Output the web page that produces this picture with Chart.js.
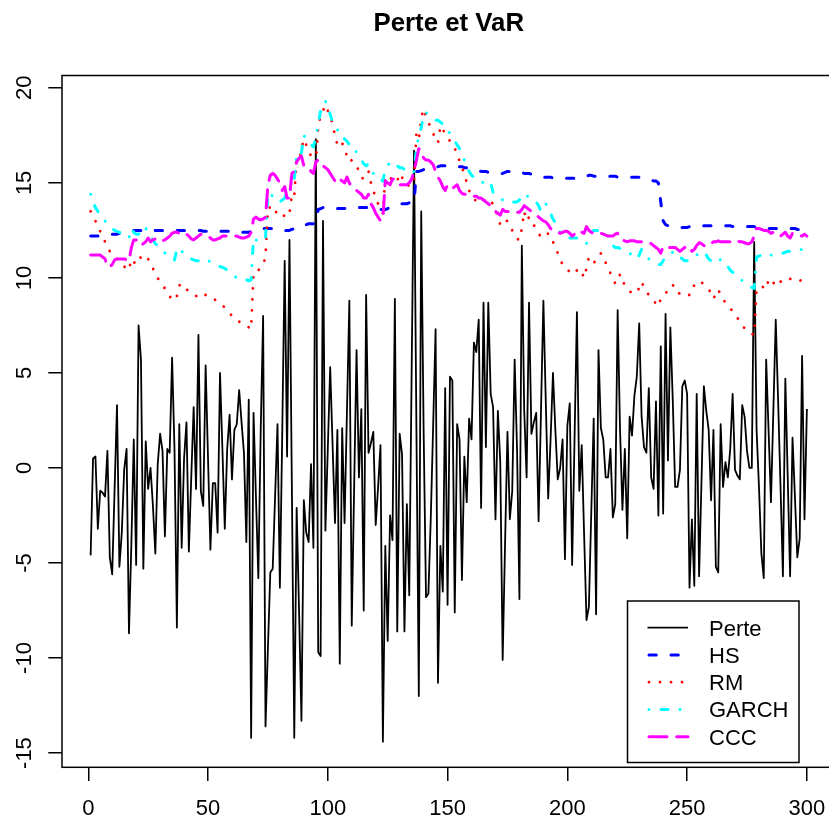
<!DOCTYPE html>
<html>
<head>
<meta charset="utf-8">
<title>Perte et VaR</title>
<script src="https://cdn.jsdelivr.net/npm/chart.js@4.4.0/dist/chart.umd.min.js"></script>
<style>
html, body { margin: 0; padding: 0; overflow: hidden; background: #fff; }
#wrap { width: 840px; height: 825px; }
</style>
</head>
<body>
<div id="wrap"><canvas id="chart" width="840" height="825"></canvas></div>
<script>
// series, day 1..300
var perte = [
  -4.6, 0.5, 0.6, -3.2, -1.2, -1.3, -1.5, 0.9, -4.7, -5.6,
  -1.1, 3.3, -5.2, -3.4, -0.1, 1.0, -8.7, -4.0, 1.5, -5.1,
  7.5, 5.7, -5.3, 1.4, -1.1, 0.0, -2.0, -4.5, 0.2, 1.8,
  0.9, -3.6, 1.0, 0.8, 5.8, 1.0, -8.4, 2.3, -4.2, 0.5,
  2.4, -4.4, -0.5, 3.2, -1.1, 7.0, -1.2, -2.0, 5.4, 0.5,
  -4.3, -0.8, -0.8, -3.4, 5.0, 1.0, -3.2, 1.0, 2.8, -0.6,
  2.0, 2.3, 4.1, 2.4, 0.8, -3.9, 3.6, -14.2, 2.9, -1.5,
  -5.8, 2.0, 8.0, -13.6, -9.5, -5.5, -5.3, -1.5, 2.3, -6.3,
  2.0, 10.9, 0.6, 12.0, -1.0, -14.2, -2.1, -7.5, -13.3, -1.7,
  -3.4, -3.9, 0.2, -4.2, 17.3, -9.7, -9.9, 13.0, -3.3, 1.0,
  5.3, 1.2, -2.9, 2.0, -10.3, 2.1, -2.9, 3.0, 8.8, -8.3,
  -1.0, 6.2, -0.5, 3.1, -7.5, 9.1, 0.8, 1.3, 1.9, -3.0,
  -1.0, 1.2, -14.4, -4.1, -9.1, -2.5, -3.8, 8.9, -8.6, 1.8,
  0.7, -8.6, -1.9, -6.7, 5.0, 16.7, 2.0, -12.0, 13.5, 2.0,
  -6.8, -6.6, -2.6, 2.3, 7.3, -11.3, -4.1, -6.5, 4.2, -7.2,
  4.8, 4.6, -7.6, 2.3, 1.5, -5.9, 0.6, -1.8, 2.6, 1.5,
  6.6, 6.1, 7.8, -2.1, 8.7, 1.1, 8.7, 3.9, 3.2, -2.7,
  3.0, 0.3, -10.1, -4.0, 1.9, -2.7, -1.2, 5.7, 1.0, -6.9,
  11.7, 3.0, -0.5, 8.7, 1.8, 2.4, 2.9, -2.8, 3.0, 8.8,
  3.5, -1.6, 1.5, 5.0, 2.0, -0.6, 0.0, 1.5, -4.8, 2.2,
  3.4, -5.1, 1.5, 8.2, -1.2, 1.2, -3.5, -8.0, -7.3, -2.3,
  2.6, -7.7, 6.2, 2.1, 1.5, -0.5, -0.5, 1.0, -2.6, -1.9,
  8.3, 2.0, -2.2, 1.0, -3.7, 2.7, 1.7, 3.8, 4.8, 7.6,
  2.7, 1.1, 0.8, 4.2, -0.5, -1.1, 3.5, -2.5, 6.4, -2.4,
  8.1, 0.4, 7.4, 3.6, -1.0, -1.0, -0.1, 4.3, 4.6, 3.9,
  -6.3, -2.7, -6.2, 3.9, -5.7, -0.7, 4.3, 3.0, 2.0, -1.7,
  2.0, -5.2, -5.5, 2.3, -1.0, 0.3, -0.5, 1.0, 3.9, -0.1,
  -0.4, -0.6, 3.3, 2.7, 0.9, 0.0, 0.0, 11.9, 2.0, -1.0,
  -4.5, -5.8, 5.7, 2.0, -1.8, 3.0, 7.8, 3.5, -1.0, -5.7,
  4.7, -0.5, -5.7, 1.6, -1.5, -4.7, -3.7, 5.9, -2.7, 3.1
];

var hs = [
  12.2, 12.2, 12.2, 12.2, 12.25, 12.25, 12.3, 12.3, 12.3, 12.3,
  12.3, 12.3, 12.35, 12.35, 12.4, 12.45, 12.5, 12.5, 12.5, 12.5,
  12.5, 12.5, 12.5, 12.5, 12.45, 12.45, 12.45, 12.5, 12.5, 12.5,
  12.5, 12.5, 12.5, 12.5, 12.5, 12.5, 12.5, 12.5, 12.5, 12.5,
  12.5, 12.5, 12.5, 12.5, 12.5, 12.5, 12.5, 12.45, 12.45, 12.45,
  12.45, 12.45, 12.45, 12.45, 12.45, 12.45, 12.45, 12.45, 12.45, 12.45,
  12.4, 12.4, 12.4, 12.4, 12.4, 12.4, 12.4, 12.45, 12.5, 12.5,
  12.55, 12.55, 12.6, 12.6, 12.6, 12.6, 12.6, 12.55, 12.5, 12.5,
  12.5, 12.5, 12.5, 12.5, 12.55, 12.6, 12.7, 12.75, 12.8, 12.8,
  12.8, 12.85, 12.85, 12.85, 12.85, 13.6, 13.65, 13.7, 13.7, 13.7,
  13.7, 13.65, 13.65, 13.65, 13.65, 13.65, 13.65, 13.7, 13.7, 13.7,
  13.7, 13.7, 13.7, 13.7, 13.7, 13.7, 13.7, 13.7, 13.7, 13.7,
  13.65, 13.6, 13.6, 13.6, 13.65, 13.7, 13.75, 13.8, 13.85, 13.9,
  13.9, 13.9, 13.9, 13.95, 13.95, 13.95, 15.6, 15.6, 15.65, 15.7,
  15.7, 15.7, 15.75, 15.8, 15.8, 15.85, 15.9, 15.9, 15.9, 15.9,
  15.9, 15.9, 15.9, 15.9, 15.85, 15.85, 15.8, 15.8, 15.75, 15.75,
  15.7, 15.7, 15.65, 15.6, 15.6, 15.6, 15.55, 15.55, 15.5, 15.5,
  15.5, 15.5, 15.5, 15.55, 15.6, 15.6, 15.6, 15.6, 15.6, 15.6,
  15.55, 15.5, 15.5, 15.5, 15.45, 15.4, 15.4, 15.35, 15.35, 15.3,
  15.3, 15.3, 15.3, 15.25, 15.25, 15.25, 15.25, 15.25, 15.25, 15.25,
  15.25, 15.25, 15.25, 15.25, 15.3, 15.3, 15.35, 15.35, 15.4, 15.4,
  15.35, 15.35, 15.35, 15.35, 15.35, 15.35, 15.35, 15.35, 15.35, 15.35,
  15.3, 15.3, 15.3, 15.3, 15.3, 15.3, 15.3, 15.3, 15.3, 15.3,
  15.25, 15.2, 15.2, 15.2, 15.15, 15.1, 15.1, 15.0, 14.0, 13.0,
  12.8, 12.75, 12.7, 12.7, 12.7, 12.7, 12.65, 12.65, 12.65, 12.65,
  12.7, 12.7, 12.7, 12.7, 12.75, 12.75, 12.75, 12.75, 12.75, 12.75,
  12.75, 12.75, 12.75, 12.75, 12.75, 12.75, 12.75, 12.75, 12.7, 12.7,
  12.7, 12.7, 12.7, 12.7, 12.7, 12.7, 12.7, 12.7, 12.65, 12.65,
  12.65, 12.6, 12.6, 12.6, 12.6, 12.6, 12.6, 12.6, 12.6, 12.6,
  12.6, 12.6, 12.6, 12.6, 12.6, 12.55, 12.55, 12.5, 12.5, 12.5
];

var rm = [
  13.5, 13.2, 13.0, 12.7, 12.45, 12.2, 11.9, 11.6, 11.4, 11.2,
  11.1, 11.0, 10.9, 10.8, 10.6, 10.5, 10.4, 11.0, 10.85, 10.7,
  10.9, 11.1, 11.2, 11.2, 11.0, 10.7, 10.5, 10.2, 10.0, 9.75,
  9.6, 9.45, 9.3, 9.05, 8.8, 8.9, 9.05, 9.6, 9.7, 9.55,
  9.4, 9.3, 9.2, 9.1, 9.05, 9.0, 9.15, 9.1, 9.1, 9.1,
  9.0, 8.9, 8.85, 8.75, 8.65, 8.55, 8.45, 8.3, 8.15, 8.0,
  7.85, 7.75, 7.7, 7.6, 7.5, 7.45, 7.4, 7.3, 10.3, 10.35,
  10.4, 10.55, 10.7, 11.1, 13.7, 13.7, 13.8, 13.6, 13.3, 13.2,
  13.2, 13.3, 13.5, 13.4, 14.4, 14.3, 16.2, 16.1, 16.8, 17.3,
  17.0, 16.7, 16.4, 16.2, 16.0, 18.0, 18.5, 18.8, 19.1, 18.8,
  18.5, 18.1, 17.5, 17.0, 16.9, 17.1, 16.8, 16.4, 16.1, 16.2,
  16.0, 15.8, 15.7, 15.3, 15.2, 15.5, 15.6, 15.0, 14.6, 14.2,
  13.9, 13.6, 13.4, 15.3, 15.2, 15.3, 15.1, 15.0, 15.1, 15.5,
  15.3, 15.0, 15.0, 14.8, 14.9, 15.2, 17.6, 17.3, 18.4, 18.9,
  18.5, 18.2, 17.9, 17.6, 17.3, 17.1, 18.0, 17.8, 17.6, 17.4,
  17.2, 16.9, 16.8, 16.6, 16.1, 15.8, 15.5, 15.0, 14.6, 14.3,
  14.2, 14.0, 14.0, 14.0, 14.0, 14.2, 14.05, 14.0, 13.9, 13.6,
  13.2, 12.8, 13.05, 13.0, 13.0, 12.8, 12.5, 12.3, 12.05, 12.0,
  12.6, 13.5, 13.0, 13.2, 12.9, 12.8, 12.5, 12.3, 12.2, 12.1,
  12.2, 12.35, 12.1, 11.9, 11.6, 11.3, 11.0, 10.7, 10.5, 10.4,
  10.35, 10.3, 10.2, 10.4, 10.5, 10.3, 10.0, 10.5, 11.1, 11.0,
  10.8, 10.9, 11.0, 11.3, 11.1, 10.8, 10.5, 10.25, 10.0, 9.7,
  9.8, 10.2, 9.9, 9.6, 9.5, 9.3, 9.2, 9.2, 9.2, 9.5,
  9.8, 9.5, 9.3, 9.1, 8.9, 8.8, 8.65, 8.5, 8.9, 9.0,
  9.1, 9.5, 9.6, 9.6, 9.6, 9.4, 9.1, 9.1, 9.1, 9.1,
  9.1, 9.5, 9.6, 9.8, 9.8, 9.8, 9.6, 9.5, 9.4, 9.2,
  8.9, 9.2, 9.4, 9.1, 8.9, 8.7, 8.5, 8.4, 8.25, 8.1,
  7.9, 7.7, 7.5, 7.35, 7.25, 7.1, 7.05, 7.0, 9.4, 9.4,
  9.4, 9.6, 9.9, 9.7, 9.5, 9.7, 9.95, 9.8, 9.8, 9.9,
  10.0, 10.0, 9.95, 9.9, 9.85, 9.8, 9.85, 9.9, 9.95, 9.9
];

var garch = [
  14.4, 14.0, 13.7, 13.5, 13.3, 13.1, 13.0, 12.8, 12.7, 12.6,
  12.5, 12.45, 12.4, 12.35, 12.3, 12.2, 12.1, 12.6, 12.4, 12.3,
  12.3, 12.5, 12.7, 12.6, 12.4, 12.2, 12.0, 11.8, 11.7, 11.55,
  11.5, 11.3, 11.2, 11.1, 11.0, 10.95, 11.5, 11.6, 11.4, 11.3,
  11.2, 11.1, 11.0, 10.95, 10.9, 10.9, 11.0, 10.95, 10.9, 10.9,
  10.85, 10.8, 10.7, 10.65, 10.6, 10.55, 10.5, 10.4, 10.3, 10.2,
  10.1, 10.0, 9.95, 9.9, 9.9, 9.9, 9.85, 9.9, 12.1, 12.0,
  11.9, 11.9, 12.0, 12.1, 14.5, 14.4, 14.3, 14.2, 14.0, 14.0,
  14.1, 14.2, 14.6, 14.5, 15.0, 15.2, 16.5, 16.4, 16.6, 17.5,
  17.3, 17.1, 17.0, 16.9, 17.4, 18.1, 18.8, 19.0, 19.3, 19.0,
  18.6, 18.2, 18.0, 17.8, 17.6, 17.6, 17.3, 17.2, 17.0, 17.0,
  16.9, 16.6, 16.4, 16.2, 16.0, 15.9, 16.0, 15.8, 15.5, 15.3,
  15.2, 15.2, 15.1, 15.7, 15.9, 16.1, 16.0, 15.9, 15.9, 15.8,
  15.8, 15.7, 15.7, 15.6, 15.5, 15.6, 16.8, 17.5, 17.9, 18.6,
  18.7, 18.6, 18.5, 18.4, 18.3, 18.3, 18.2, 18.1, 18.0, 17.8,
  17.6, 17.4, 17.2, 17.0, 16.8, 16.5, 16.2, 15.9, 15.6, 15.4,
  15.3, 15.2, 15.1, 15.1, 15.0, 14.9, 14.9, 15.0, 14.5, 14.4,
  14.3, 14.2, 14.1, 14.1, 14.0, 14.0, 14.0, 14.0, 14.0, 14.1,
  14.4, 14.4, 14.3, 14.3, 14.2, 14.1, 14.0, 13.8, 13.5, 13.7,
  13.9, 13.7, 13.4, 13.1, 12.9, 12.7, 12.4, 12.3, 12.2, 12.1,
  12.1, 12.1, 12.1, 12.1, 12.0, 11.9, 11.8, 11.8, 12.2, 12.4,
  12.5, 12.5, 12.5, 12.5, 12.4, 12.3, 12.2, 11.9, 11.7, 11.6,
  11.6, 11.55, 11.5, 11.45, 11.4, 11.3, 11.2, 11.1, 11.0, 11.2,
  11.5, 11.3, 11.1, 11.0, 10.9, 10.8, 10.75, 10.7, 10.7, 10.9,
  11.1, 11.2, 11.3, 11.35, 11.4, 11.2, 11.1, 11.0, 10.9, 10.9,
  11.0, 11.1, 11.1, 11.2, 11.3, 11.35, 11.4, 11.2, 11.0, 10.9,
  10.8, 10.9, 11.0, 10.95, 10.95, 10.8, 10.6, 10.4, 10.3, 10.2,
  10.1, 10.0, 9.85, 9.75, 9.65, 9.55, 9.5, 9.45, 11.1, 11.15,
  11.2, 11.25, 11.3, 11.25, 11.2, 11.2, 11.2, 11.25, 11.3, 11.3,
  11.35, 11.4, 11.4, 11.4, 11.45, 11.45, 11.5, 11.5, 11.5, 11.5
];

var ccc = [
  11.2, 11.2, 11.2, 11.2, 11.2, 11.1, 11.0, 10.6, 10.6, 10.7,
  10.95, 11.0, 11.0, 11.0, 11.0, 10.95, 10.9, 11.6, 12.0, 12.0,
  11.9, 11.7, 11.8, 11.9, 12.1, 11.9, 12.0, 12.05, 11.95, 11.9,
  11.95, 12.0, 12.1, 12.2, 12.35, 12.4, 12.4, 12.35, 12.35, 12.4,
  12.3, 12.2, 12.05, 12.0, 12.1, 12.2, 12.3, 12.3, 12.25, 12.2,
  12.1, 12.0, 12.0, 12.05, 12.1, 12.2, 12.2, 12.2, 12.2, 12.2,
  12.2, 12.2, 12.15, 12.1, 12.1, 12.15, 12.2, 12.4, 13.1, 13.2,
  13.1, 13.05, 13.1, 13.2, 14.9, 15.4, 15.5, 15.4, 15.2, 15.0,
  14.6, 14.8, 14.2, 14.2, 15.5, 15.6, 16.1, 16.3, 16.4, 15.9,
  15.8, 15.8, 15.6, 15.5, 16.1, 16.2, 15.95, 15.9, 15.8, 15.7,
  15.5, 15.3, 15.1, 15.0, 15.2, 15.1, 15.0, 15.3, 15.0, 14.8,
  14.7, 14.6, 14.5, 14.4, 14.2, 14.2, 14.4, 13.9, 13.7, 13.4,
  13.2, 13.0, 13.1, 15.1, 15.0, 14.9, 15.2, 15.2, 15.1, 14.9,
  14.9, 14.9, 14.9, 15.0, 15.2, 15.6, 16.2, 16.8, 16.7, 16.3,
  16.2, 16.2, 16.1, 15.95, 15.6, 15.3, 15.1, 14.8, 14.6, 14.9,
  14.8, 14.7, 14.8, 14.9, 14.6, 14.45, 14.4, 14.4, 14.4, 14.4,
  14.3, 14.3, 14.2, 14.2, 14.1, 14.0, 13.9, 13.8, 13.6, 13.5,
  13.4, 13.3, 13.6, 13.5, 13.5, 13.5, 13.5, 13.45, 13.45, 13.45,
  13.6, 13.8, 13.7, 13.6, 13.5, 13.4, 13.3, 13.2, 13.1, 13.0,
  12.95, 12.8, 12.6, 12.5, 12.4, 12.4, 12.35, 12.4, 12.45, 12.45,
  12.35, 12.2, 12.3, 12.4, 12.5, 12.4, 12.35, 12.7, 12.5, 12.4,
  12.35, 12.4, 12.4, 12.35, 12.3, 12.25, 12.2, 12.2, 12.2, 12.3,
  12.35, 12.1, 12.0, 11.95, 11.9, 11.95, 11.95, 11.95, 11.9, 11.9,
  11.9, 11.9, 11.9, 11.85, 11.8, 11.7, 11.6, 11.5, 11.3, 11.65,
  11.65, 11.6, 11.6, 11.6, 11.6, 11.5, 11.4, 11.5, 11.6, 11.7,
  11.6, 11.4, 11.5, 11.7, 11.85, 11.8, 11.7, 11.65, 11.7, 11.8,
  11.9, 11.9, 11.95, 11.9, 11.9, 11.9, 11.9, 11.9, 11.95, 12.0,
  11.95, 11.9, 11.9, 11.85, 11.8, 11.8, 11.9, 12.2, 12.6, 12.6,
  12.55, 12.5, 12.5, 12.45, 12.35, 12.4, 12.4, 12.3, 12.2, 12.3,
  12.4, 12.2, 12.1, 12.35, 12.3, 12.3, 12.25, 12.2, 12.3, 12.2
];

var seriesNames = ['Perte', 'HS', 'RM', 'GARCH', 'CCC'];
var yTicks = [-15, -10, -5, 0, 5, 10, 15, 20];
var yTickLabels = ['-15', '-10', '-5', '0', '5', '10', '15', '20'];

var FONT = "'Liberation Sans', Arial, Helvetica, sans-serif";

// line styles, R-like (round caps)
var styles = [
  {color: '#000000', width: 1.8, dash: []},
  {color: '#0000ff', width: 3, dash: [7.3, 14.7]},
  {color: '#ff0000', width: 2.8, dash: [0.01, 11]},
  {color: '#00ffff', width: 3, dash: [0.01, 12, 7, 12]},
  {color: '#ff00ff', width: 3, dash: [18, 9.7]}
];

function pts(arr) {
  return arr.map(function (v, i) { return {x: i + 1, y: v}; });
}

var allSeries = [perte, hs, rm, garch, ccc];
var datasets = allSeries.map(function (arr, k) {
  return {
    label: seriesNames[k],
    data: pts(arr),
    borderColor: styles[k].color,
    borderWidth: styles[k].width,
    borderDash: styles[k].dash,
    borderCapStyle: k === 0 ? 'butt' : 'round',
    borderJoinStyle: 'round',
    pointRadius: 0,
    tension: 0,
    fill: false,
    order: 5 - k
  };
});

var rStyle = {
  id: 'rStyle',
  afterDatasetsDraw: function (chart) {
    var ctx = chart.ctx, a = chart.chartArea;
    var y = chart.scales.y;
    ctx.save();
    // box
    ctx.strokeStyle = '#000';
    ctx.lineWidth = 1.5;
    ctx.setLineDash([]);
    ctx.strokeRect(a.left, a.top, a.right - a.left, a.bottom - a.top);

    // y tick labels, rotated
    ctx.fillStyle = '#000';
    ctx.font = '22px ' + FONT;
    ctx.textAlign = 'center';
    ctx.textBaseline = 'middle';
    yTicks.forEach(function (v, i) {
      ctx.save();
      ctx.translate(25, y.getPixelForValue(v));
      ctx.rotate(-Math.PI / 2);
      ctx.fillText(yTickLabels[i], 0, 0);
      ctx.restore();
    });

    // title
    ctx.font = 'bold 25.8px ' + FONT;
    ctx.textBaseline = 'alphabetic';
    ctx.fillText('Perte et VaR', (a.left + a.right) / 2, 31);

    // legend
    var bx = 627.5, by = 601, bw = 171.5, bh = 161.5;
    ctx.fillStyle = '#fff';
    ctx.fillRect(bx, by, bw, bh);
    ctx.strokeStyle = '#000';
    ctx.lineWidth = 1.5;
    ctx.strokeRect(bx, by, bw, bh);
    ctx.font = '22px ' + FONT;
    ctx.textAlign = 'left';
    for (var k = 0; k < seriesNames.length; k++) {
      var ry = 627.7 + k * 27.25;
      ctx.beginPath();
      ctx.strokeStyle = styles[k].color;
      ctx.lineWidth = styles[k].width;
      ctx.lineCap = k === 0 ? 'butt' : 'round';
      ctx.setLineDash(styles[k].dash);
      ctx.moveTo(k === 0 ? 647.5 : 649, ry);
      ctx.lineTo(688, ry);
      ctx.stroke();
      ctx.fillStyle = '#000';
      ctx.fillText(seriesNames[k], 709, ry + 7.9);
    }
    ctx.restore();
  }
};

new Chart(document.getElementById('chart').getContext('2d'), {
  type: 'line',
  data: {datasets: datasets},
  options: {
    responsive: false,
    devicePixelRatio: 1,
    animation: false,
    layout: {padding: {top: 75.5, left: 0, right: 4.3, bottom: 0}},
    plugins: {
      legend: {display: false},
      tooltip: {enabled: false},
      title: {display: false}
    },
    scales: {
      x: {
        type: 'linear',
        min: -10.96,
        max: 311.96,
        ticks: {
          stepSize: 50,
          includeBounds: false,
          autoSkip: false,
          maxRotation: 0,
          color: '#000',
          padding: 14.6,
          font: {family: FONT, size: 22},
          callback: function (v) { return String(v); }
        },
        grid: {display: true, drawOnChartArea: false, drawTicks: true, tickLength: 13.7, color: '#000', lineWidth: 1.5},
        border: {display: false},
        afterFit: function (s) { s.height = 57.7; }
      },
      y: {
        type: 'linear',
        min: -15.75,
        max: 20.65,
        ticks: {stepSize: 5, includeBounds: false, display: false},
        grid: {display: true, drawOnChartArea: false, drawTicks: true, tickLength: 13.7, color: '#000', lineWidth: 1.5},
        border: {display: false},
        afterFit: function (s) { s.width = 62; }
      }
    }
  },
  plugins: [rStyle]
});
</script>
</body>
</html>
